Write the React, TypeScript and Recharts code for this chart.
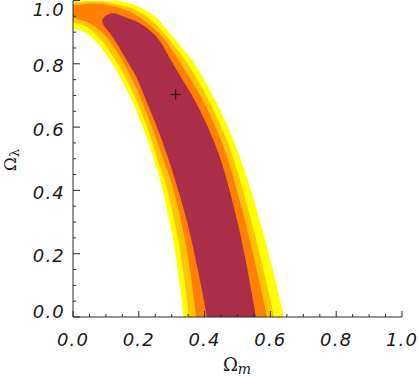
import React from 'react';
import { ComposedChart, Area, XAxis, YAxis, ReferenceDot } from 'recharts';

// Confidence regions, read row by row: at each Omega_Lambda (y), the Omega_m range [left, right]
const YELLOW_ROWS = [
  { y: 0, r: [0.336, 0.641] },
  { y: 0.1, r: [0.3245, 0.619] },
  { y: 0.2, r: [0.311, 0.595] },
  { y: 0.3, r: [0.294, 0.569] },
  { y: 0.4, r: [0.2725, 0.541] },
  { y: 0.5, r: [0.2455, 0.509] },
  { y: 0.6, r: [0.212, 0.471] },
  { y: 0.7, r: [0.172, 0.425] },
  { y: 0.76, r: [0.142, 0.393] },
  { y: 0.82, r: [0.107, 0.356] },
  { y: 0.87, r: [0.07, 0.316] },
  { y: 0.9, r: [0.036, 0.292] },
  { y: 0.916, r: [0, 0.278] },
  { y: 0.937, r: [0, 0.262] },
  { y: 0.96, r: [0, 0.235] },
  { y: 0.979, r: [0, 0.203] },
  { y: 0.99, r: [0, 0.175] },
  { y: 1.0, r: [0, 0.13] },
];

const AMBER_ROWS = [
  { y: 0, r: [0.352, 0.611] },
  { y: 0.1, r: [0.341, 0.59] },
  { y: 0.2, r: [0.327, 0.567] },
  { y: 0.3, r: [0.309, 0.543] },
  { y: 0.4, r: [0.287, 0.517] },
  { y: 0.5, r: [0.2555, 0.488] },
  { y: 0.6, r: [0.225, 0.451] },
  { y: 0.7, r: [0.186, 0.405] },
  { y: 0.76, r: [0.158, 0.373] },
  { y: 0.82, r: [0.124, 0.335] },
  { y: 0.87, r: [0.09, 0.298] },
  { y: 0.9, r: [0.062, 0.274] },
  { y: 0.92, r: [0.033, 0.256] },
  { y: 0.931, r: [0, 0.245] },
  { y: 0.963, r: [0, 0.203] },
  { y: 0.98, r: [0, 0.165] },
  { y: 0.991, r: [0, 0.115] },
  { y: 0.997, r: [0.04, 0.09] },
];

const ORANGE_ROWS = [
  { y: 0, r: [0.374, 0.59] },
  { y: 0.1, r: [0.362, 0.569] },
  { y: 0.2, r: [0.348, 0.547] },
  { y: 0.3, r: [0.329, 0.524] },
  { y: 0.4, r: [0.306, 0.498] },
  { y: 0.5, r: [0.274, 0.47] },
  { y: 0.6, r: [0.24, 0.433] },
  { y: 0.7, r: [0.202, 0.387] },
  { y: 0.76, r: [0.175, 0.352] },
  { y: 0.82, r: [0.145, 0.316] },
  { y: 0.87, r: [0.113, 0.283] },
  { y: 0.9, r: [0.088, 0.258] },
  { y: 0.92, r: [0.062, 0.236] },
  { y: 0.935, r: [0.035, 0.218] },
  { y: 0.947, r: [0, 0.203] },
  { y: 0.97, r: [0, 0.16] },
  { y: 0.984, r: [0, 0.115] },
  { y: 0.99, r: [0.05, 0.09] },
];

const RED_ROWS = [
  { y: 0, r: [0.407, 0.556] },
  { y: 0.1, r: [0.389, 0.539] },
  { y: 0.2, r: [0.369, 0.521] },
  { y: 0.3, r: [0.347, 0.5] },
  { y: 0.4, r: [0.32, 0.476] },
  { y: 0.5, r: [0.29, 0.448] },
  { y: 0.6, r: [0.255, 0.41] },
  { y: 0.7, r: [0.216, 0.362] },
  { y: 0.76, r: [0.192, 0.327] },
  { y: 0.82, r: [0.158, 0.293] },
  { y: 0.87, r: [0.13, 0.265] },
  { y: 0.9, r: [0.11, 0.24] },
  { y: 0.92, r: [0.094, 0.215] },
  { y: 0.935, r: [0.089, 0.19] },
  { y: 0.945, r: [0.093, 0.165] },
  { y: 0.955, r: [0.105, 0.14] },
  { y: 0.96, r: [0.118, 0.128] },
];

const BEST_FIT = { x: 0.312, y: 0.703 };

const ALL_TICKS = [0, 0.05, 0.1, 0.15, 0.2, 0.25, 0.3, 0.35, 0.4, 0.45, 0.5, 0.55, 0.6, 0.65, 0.7, 0.75, 0.8, 0.85, 0.9, 0.95, 1.0];
const MAJOR_TICKS = [0, 0.2, 0.4, 0.6, 0.8, 1.0];
const MAJOR_LABELS = ['0.0', '0.2', '0.4', '0.6', '0.8', '1.0'];

const FRAME = '#2b2b2b';
const TICK_FONT = { fontFamily: 'DejaVu Sans', fontStyle: 'italic' as const, fontSize: 18, letterSpacing: 1.2, fill: '#1a1a1a' };

const majorIndex = (v: number) => MAJOR_TICKS.findIndex((m) => Math.abs(m - v) < 1e-9);

const BottomTick = (props: any) => {
  const { x, y, payload } = props;
  const i = majorIndex(payload.value);
  const len = i >= 0 ? 6 : 3;
  return (
    <g>
      <line x1={x} y1={y} x2={x} y2={y - len} stroke={FRAME} strokeWidth={1} />
      {i >= 0 && (
        <text x={x} y={y + 29} textAnchor="middle" {...TICK_FONT}>
          {MAJOR_LABELS[i]}
        </text>
      )}
    </g>
  );
};

const TopTick = (props: any) => {
  const { x, y, payload } = props;
  const i = majorIndex(payload.value);
  const len = i >= 0 ? 6 : 3;
  return <line x1={x} y1={y} x2={x} y2={y + len} stroke={FRAME} strokeWidth={1} />;
};

const LeftTick = (props: any) => {
  const { x, y, payload } = props;
  const i = majorIndex(payload.value);
  const len = i >= 0 ? 7 : 3;
  const center = Math.min(311, Math.max(9, y + 2));
  return (
    <g>
      <line x1={x} y1={y} x2={x + len} y2={y} stroke={FRAME} strokeWidth={1} />
      {i >= 0 && (
        <text x={x - 8} y={center + 6.5} textAnchor="end" {...TICK_FONT}>
          {MAJOR_LABELS[i]}
        </text>
      )}
    </g>
  );
};

const RightTick = (props: any) => {
  const { x, y, payload } = props;
  const i = majorIndex(payload.value);
  const len = i >= 0 ? 7 : 3;
  return <line x1={x} y1={y} x2={x - len} y2={y} stroke={FRAME} strokeWidth={1} />;
};

const PlusShape = (props: any) => {
  const { cx, cy } = props;
  return (
    <g>
      <line x1={cx - 5} y1={cy} x2={cx + 5} y2={cy} stroke="#2a1a1e" strokeWidth={1.2} />
      <line x1={cx} y1={cy - 5} x2={cx} y2={cy + 5} stroke="#2a1a1e" strokeWidth={1.2} />
    </g>
  );
};

const BANDS = [
  { rows: YELLOW_ROWS, color: '#FFFF00' },
  { rows: AMBER_ROWS, color: '#FFC400' },
  { rows: ORANGE_ROWS, color: '#FF8000' },
  { rows: RED_ROWS, color: '#AA2E4A' },
];

export default function App() {
  return (
    <div style={{ position: 'absolute', left: 0, top: 0, width: 418, height: 378, background: '#fff' }}>
      <ComposedChart
        width={418}
        height={378}
        layout="vertical"
        margin={{ top: 0.5, right: 16, bottom: 0, left: 0 }}
      >
        <XAxis
          xAxisId="b"
          type="number"
          domain={[0, 1]}
          allowDataOverflow
          ticks={ALL_TICKS}
          interval={0}
          orientation="bottom"
          height={61}
          tickSize={0}
          tickMargin={0}
          tickLine={false}
          axisLine={{ stroke: FRAME, strokeWidth: 1 }}
          tick={(p: any) => <BottomTick {...p} />}
        />
        <XAxis
          xAxisId="t"
          type="number"
          domain={[0, 1]}
          allowDataOverflow
          ticks={ALL_TICKS}
          interval={0}
          orientation="top"
          height={0}
          tickSize={0}
          tickMargin={0}
          tickLine={false}
          axisLine={{ stroke: FRAME, strokeWidth: 1 }}
          tick={(p: any) => <TopTick {...p} />}
        />
        <YAxis
          yAxisId="l"
          type="number"
          dataKey="y"
          domain={[0, 1]}
          allowDataOverflow
          reversed
          ticks={ALL_TICKS}
          interval={0}
          orientation="left"
          width={73}
          tickSize={0}
          tickMargin={0}
          tickLine={false}
          axisLine={{ stroke: FRAME, strokeWidth: 1 }}
          tick={(p: any) => <LeftTick {...p} />}
        />
        <YAxis
          yAxisId="r"
          type="number"
          dataKey="y"
          domain={[0, 1]}
          allowDataOverflow
          reversed
          ticks={ALL_TICKS}
          interval={0}
          orientation="right"
          width={0}
          tickSize={0}
          tickMargin={0}
          tickLine={false}
          axisLine={{ stroke: FRAME, strokeWidth: 1 }}
          tick={(p: any) => <RightTick {...p} />}
        />
        {BANDS.map((b, i) => (
          <Area
            key={i}
            data={b.rows}
            xAxisId="b"
            yAxisId="l"
            dataKey="r"
            type="monotone"
            stroke="none"
            fill={b.color}
            fillOpacity={1}
            dot={false}
            activeDot={false}
            isAnimationActive={false}
          />
        ))}
        <ReferenceDot
          xAxisId="b"
          yAxisId="l"
          x={BEST_FIT.x}
          y={BEST_FIT.y}
          r={5}
          shape={(p: any) => <PlusShape {...p} />}
        />
      </ComposedChart>
      <svg
        width={418}
        height={378}
        style={{ position: 'absolute', left: 0, top: 0, pointerEvents: 'none' }}
      >
        <text x={237} y={371} textAnchor="middle" fill="#1a1a1a">
          <tspan fontFamily="DejaVu Serif" fontSize={18}>Ω</tspan>
          <tspan fontFamily="DejaVu Serif" fontStyle="italic" fontSize={14} dy={3}>m</tspan>
        </text>
        <text transform="translate(16,160) rotate(-90)" textAnchor="middle" fill="#1a1a1a">
          <tspan fontFamily="DejaVu Serif" fontSize={17}>Ω</tspan>
          <tspan fontFamily="DejaVu Serif" fontSize={13} dy={3}>λ</tspan>
        </text>
      </svg>
    </div>
  );
}
